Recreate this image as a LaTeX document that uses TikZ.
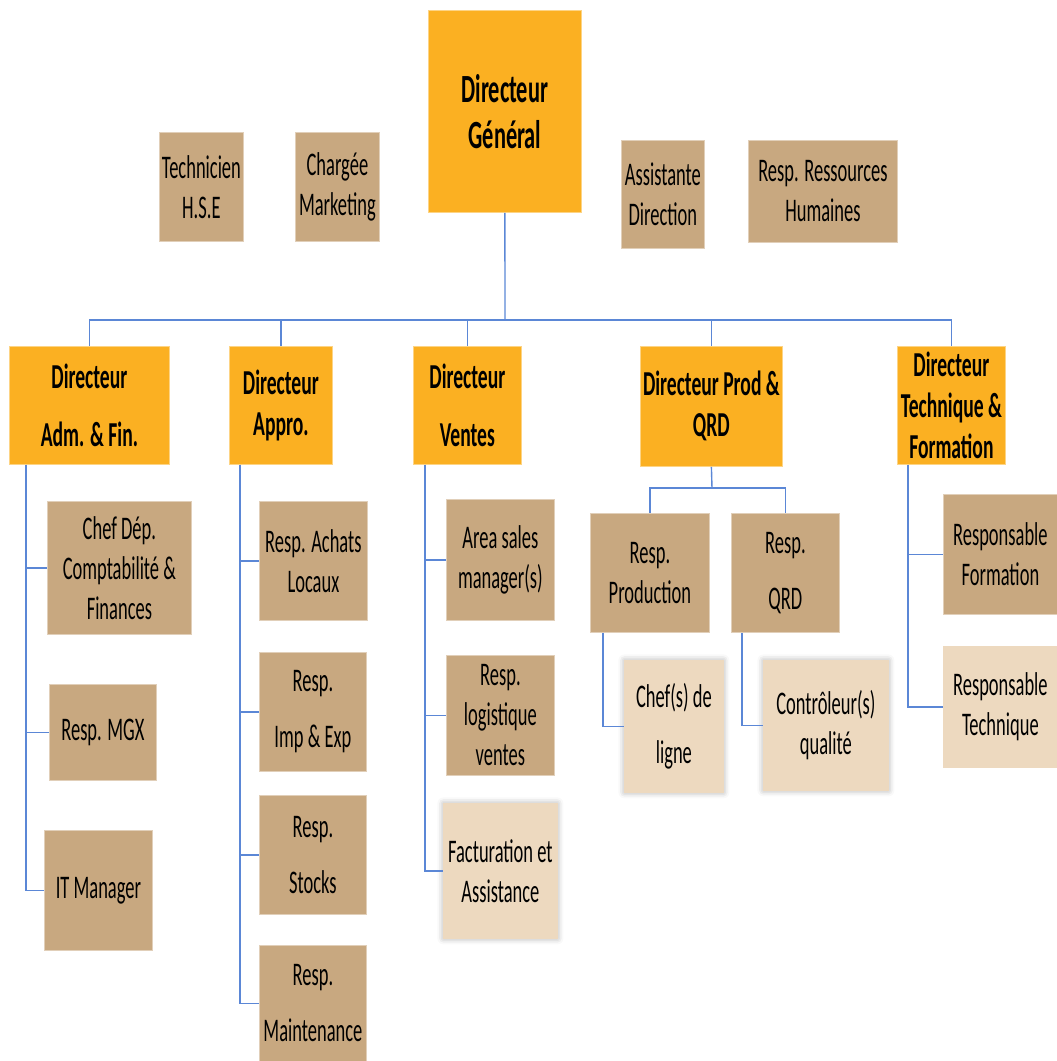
\documentclass[tikz,border=0pt]{standalone}
\usepackage{fontspec}
\setmainfont{Carlito}[FakeStretch=0.56]
\usetikzlibrary{positioning, calc, shadows.blur}
\definecolor{orgorange}{HTML}{FBB022}
\definecolor{orgtan}{HTML}{C8A880}
\definecolor{orglight}{HTML}{EDD9BF}
\definecolor{orgline}{HTML}{5B87D6}

\begin{document}
\begin{tikzpicture}[
    x=1pt, y=-1pt,
    head/.style={rectangle, fill=orgorange, draw=orgorange!55!white, line width=0.8pt, anchor=north west, align=center, inner sep=0pt, font=\fontsize{35}{41}\selectfont\bfseries},
    staff/.style={rectangle, fill=orgtan, draw=orgtan!55!white, line width=0.8pt, anchor=north west, align=center, inner sep=0pt, font=\fontsize{33}{40}\selectfont},
    junior/.style={staff, fill=orglight, draw=orglight},
    soft/.style={junior, blur shadow={shadow xshift=0pt, shadow yshift=0pt, shadow blur radius=6pt, shadow opacity=35}},
    link/.style={draw=orgline, line width=1.4pt}
]
\useasboundingbox (0,0) rectangle (1057,1061);

% Nodes
\node[head, minimum width=153, minimum height=202, font=\fontsize{40}{46}\selectfont\bfseries] (dg) at (428,10) {Directeur\\Général};
\node[staff, minimum width=84, minimum height=109] (hse) at (159,132) {Technicien\\H.S.E};
\node[staff, minimum width=84, minimum height=109] (mkt) at (295,132) {Chargée\\Marketing};
\node[staff, minimum width=83, minimum height=108] (asst) at (621,140) {Assistante\\Direction};
\node[staff, minimum width=149, minimum height=102] (rh) at (748,140) {Resp. Ressources\\Humaines};

\node[head, minimum width=160, minimum height=118] (adm) at (9,346) {Directeur\\[17pt]Adm. \& Fin.};
\node[head, minimum width=103, minimum height=118] (appro) at (229,346) {Directeur\\Appro.};
\node[head, minimum width=108, minimum height=118] (ventes) at (413,346) {Directeur\\[17pt]Ventes};
\node[head, minimum width=142, minimum height=120] (prod) at (640,346) {Directeur Prod \&\\QRD};
\node[head, minimum width=108, minimum height=118] (tech) at (897,346) {Directeur\\Technique \&\\Formation};

\node[staff, minimum width=144, minimum height=133] (cpt) at (47,501) {Chef Dép.\\Comptabilité \&\\Finances};
\node[staff, minimum width=107, minimum height=96] (mgx) at (49,684) {Resp. MGX};
\node[staff, minimum width=108, minimum height=120] (itm) at (44,830) {IT Manager};

\node[staff, minimum width=108, minimum height=119] (achats) at (259,501) {Resp. Achats\\Locaux};
\node[staff, minimum width=107, minimum height=119] (impexp) at (259,652) {Resp.\\[16pt]Imp \& Exp};
\node[staff, minimum width=107, minimum height=119] (stocks) at (259,795) {Resp.\\[16pt]Stocks};
\node[staff, minimum width=107, minimum height=116] (maint) at (259,945) {Resp.\\[16pt]Maintenance};

\node[staff, minimum width=108, minimum height=121] (area) at (446,499) {Area sales\\manager(s)};
\node[staff, minimum width=108, minimum height=120] (logi) at (446,655) {Resp.\\logistique\\ventes};
\node[soft, minimum width=114, minimum height=135] (fact) at (443,803) {Facturation et\\Assistance};

\node[staff, minimum width=119, minimum height=119] (rprod) at (590,513) {Resp.\\Production};
\node[staff, minimum width=108, minimum height=119] (rqrd) at (731,513) {Resp.\\[16pt]QRD};
\node[soft, minimum width=99, minimum height=132] (ligne) at (624,660) {Chef(s) de\\[16pt]ligne};
\node[soft, minimum width=125, minimum height=130] (ctrl) at (763,660) {Contrôleur(s)\\qualité};

\node[staff, minimum width=114, minimum height=120] (form) at (943,494) {Responsable\\Formation};
\node[junior, minimum width=114, minimum height=121] (techn) at (943,646) {Responsable\\Technique};

\coordinate (bus) at (505,320);
\coordinate (pbus) at (712,488);

% Links
\draw[link] (dg.south) -- (bus);
\foreach \d in {adm, appro, ventes, prod, tech}
    \draw[link] (bus) -| (\d.north);

\foreach \c in {cpt, mgx, itm}
    \draw[link] ([xshift=17pt]adm.south west) |- (\c.west);
\foreach \c in {achats, impexp, stocks, maint}
    \draw[link] ([xshift=11pt]appro.south west) |- (\c.west);
\foreach \c in {area, logi, fact}
    \draw[link] ([xshift=12pt]ventes.south west) |- (\c.west);
\foreach \c in {form, techn}
    \draw[link] ([xshift=11pt]tech.south west) |- (\c.west);

\draw[link] (prod.south) -- (pbus);
\draw[link] (pbus) -| (rprod.north);
\draw[link] (pbus) -| (rqrd.north);
\draw[link] ([xshift=13pt]rprod.south west) |- (ligne.west);
\draw[link] ([xshift=11pt]rqrd.south west) |- (ctrl.west);

\end{tikzpicture}
\end{document}
